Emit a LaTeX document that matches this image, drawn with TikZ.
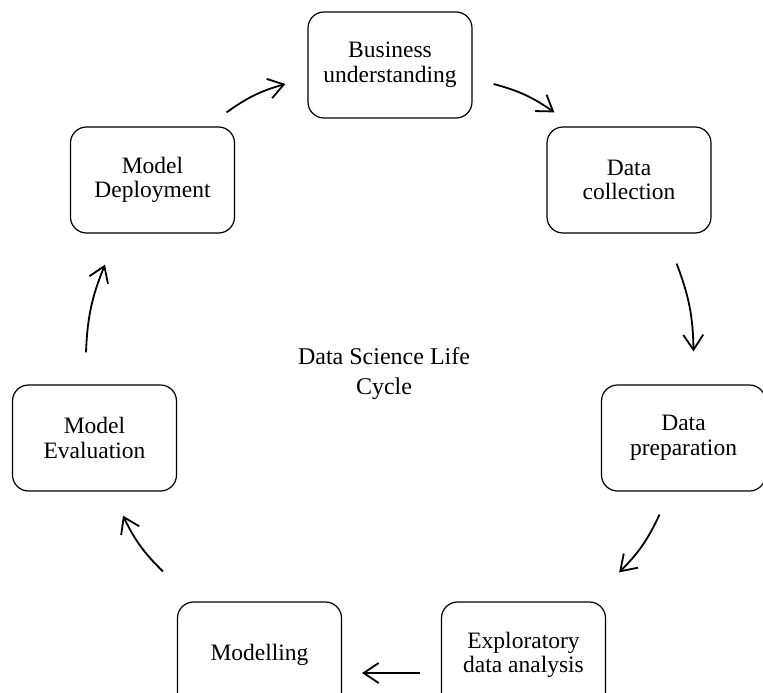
\documentclass[tikz,border=0pt]{standalone}
\usepackage{fontspec}
\setmainfont{Liberation Serif}
\usetikzlibrary{arrows.meta}

\tikzset{
    stage/.style={draw, line width=1.2pt, rounded corners=16pt, minimum width=164pt, minimum height=106pt,
        align=center, font=\fontsize{23.5}{24.5}\selectfont},
    flow/.style={-{Straight Barb[length=15pt,width=20pt]}, line width=1.8pt},
}

\begin{document}
\begin{tikzpicture}[x=1pt,y=-1pt]
    \useasboundingbox (0,0) rectangle (763,693);
    \foreach \p/\t [count=\i from 1] in {(390,65)/{Business\\understanding}, (629,180)/{Data\\collection},
        (683.5,438)/{Data\\preparation}, (523.5,655)/{Exploratory\\data analysis}, (259.5,655)/{Modelling},
        (94.5,438)/{Model\\Evaluation}, (152.5,180)/{Model\\Deployment}}
        {\node[stage] (s\i) at \p {\t};}
    \node[align=center, font=\fontsize{24}{30}\selectfont] (title) at (384,374) {Data Science Life\\Cycle};
    % the cycle, clockwise
    \draw[flow] ([shift={(-8.5,-14)}]s7.north east) to[bend left=10] ([shift={(-22,19)}]s1.west);
    \draw[flow] ([shift={(21,19)}]s1.east) to[bend left=10] ([shift={(8,-14)}]s2.north west);
    \draw[flow] ([shift={(-35,30)}]s2.south east) to[bend left=10] ([shift={(10,-33)}]s3.north);
    \draw[flow] ([shift={(-24,23)}]s3.south) to[bend left=10] ([shift={(13,-29)}]s4.north east);
    \draw[flow] ([shift={(-21,18)}]s4.west) -- ([shift={(20,18)}]s5.east);
    \draw[flow] ([shift={(-14,-30)}]s5.north west) to[bend left=10] ([shift={(28.5,24)}]s6.south);
    \draw[flow] ([shift={(-8.5,-32)}]s6.north) to[bend left=10] ([shift={(-47.5,31)}]s7.south);
\end{tikzpicture}
\end{document}
